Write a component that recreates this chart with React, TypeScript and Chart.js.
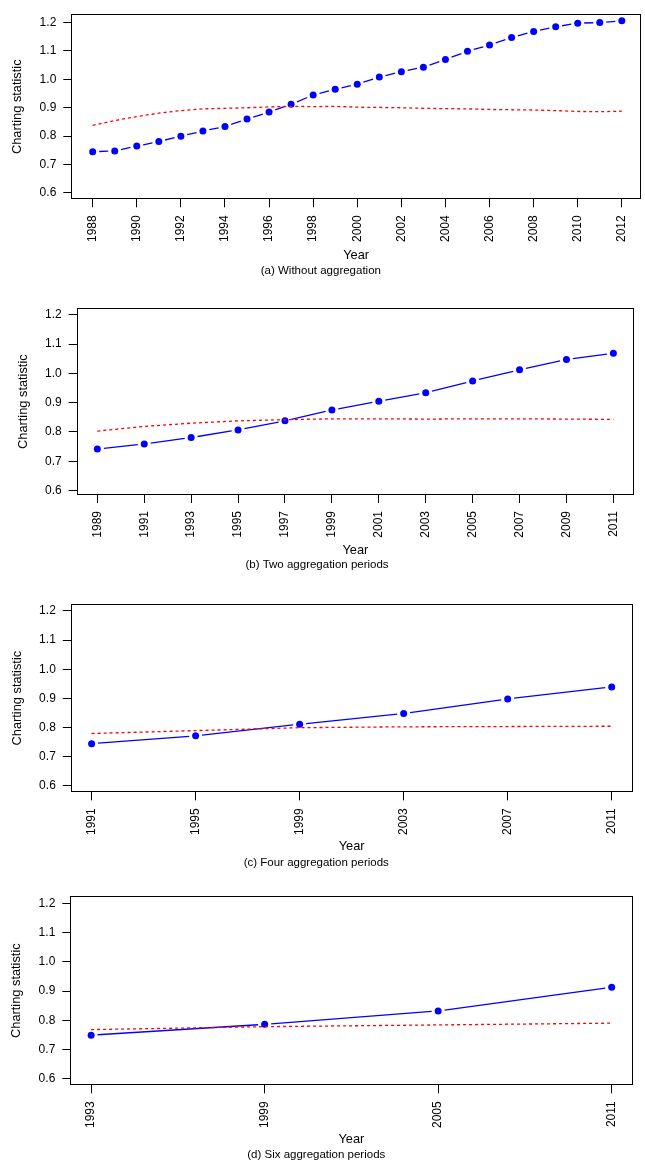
import React, { useEffect, useRef } from 'react';
import { Chart, registerables } from 'chart.js';

Chart.register(...registerables);

const FONT = "'Liberation Sans', Arial, Helvetica, sans-serif";

// ---------- data ----------
const yTickValues = [0.6, 0.7, 0.8, 0.9, 1.0, 1.1, 1.2];

// (a) Without aggregation
const yearsA = [1988, 1989, 1990, 1991, 1992, 1993, 1994, 1995, 1996, 1997, 1998, 1999, 2000, 2001, 2002, 2003, 2004, 2005, 2006, 2007, 2008, 2009, 2010, 2011, 2012];
const blueA = [0.745, 0.748, 0.765, 0.781, 0.800, 0.818, 0.834, 0.860, 0.885, 0.912, 0.945, 0.965, 0.983, 1.008, 1.027, 1.043, 1.070, 1.099, 1.121, 1.147, 1.169, 1.185, 1.198, 1.200, 1.206];
const redA = [0.838, 0.855, 0.869, 0.881, 0.890, 0.896, 0.898, 0.900, 0.903, 0.905, 0.904, 0.905, 0.902, 0.901, 0.900, 0.898, 0.897, 0.896, 0.894, 0.893, 0.892, 0.890, 0.887, 0.886, 0.888];
const tickYearsA = [1988, 1990, 1992, 1994, 1996, 1998, 2000, 2002, 2004, 2006, 2008, 2010, 2012];
const captionA = '(a) Without aggregation';

// (b) Two aggregation periods
const yearsB = [1989, 1991, 1993, 1995, 1997, 1999, 2001, 2003, 2005, 2007, 2009, 2011];
const blueB = [0.742, 0.759, 0.781, 0.807, 0.838, 0.875, 0.905, 0.934, 0.974, 1.012, 1.047, 1.069];
const redB = [0.803, 0.819, 0.830, 0.838, 0.842, 0.845, 0.845, 0.844, 0.845, 0.845, 0.844, 0.843];
const tickYearsB = [1989, 1991, 1993, 1995, 1997, 1999, 2001, 2003, 2005, 2007, 2009, 2011];
const captionB = '(b) Two aggregation periods';

// (c) Four aggregation periods
const yearsC = [1991, 1995, 1999, 2003, 2007, 2011];
const blueC = [0.744, 0.771, 0.811, 0.848, 0.898, 0.939];
const redC = [0.779, 0.789, 0.799, 0.802, 0.803, 0.804];
const tickYearsC = [1991, 1995, 1999, 2003, 2007, 2011];
const captionC = '(c) Four aggregation periods';

// (d) Six aggregation periods
const yearsD = [1993, 1999, 2005, 2011];
const blueD = [0.749, 0.786, 0.832, 0.913];
const redD = [0.768, 0.778, 0.784, 0.790];
const tickYearsD = [1993, 1999, 2005, 2011];
const captionD = '(d) Six aggregation periods';

// ---------- layout (page pixels) ----------
const PAGE_W = 645;

const panels = [
  { years: yearsA, blue: blueA, red: redA, ticks: tickYearsA, caption: captionA,
    top: 0, height: 290, box: { l: 71.3, t: 7, r: 641.7, b: 199.3 },
    yTitleX: 17, yearY: 255, captionY: 271, xLim: [1987.03, 2012.87], yLim: [0.5776, 1.2295] },
  { years: yearsB, blue: blueB, red: redB, ticks: tickYearsB, caption: captionB,
    top: 292, height: 290, box: { l: 76.7, t: 308.3, r: 634, b: 495 },
    yTitleX: 23.6, yearY: 550, captionY: 565, xLim: [1988.12, 2011.88], yLim: [0.585, 1.222] },
  { years: yearsC, blue: blueC, red: redC, ticks: tickYearsC, caption: captionC,
    top: 585, height: 290, box: { l: 70.8, t: 604, r: 632.5, b: 792.3 },
    yTitleX: 17, yearY: 846.7, captionY: 863.3, xLim: [1990.2, 2011.8], yLim: [0.577, 1.224] },
  { years: yearsD, blue: blueD, red: redD, ticks: tickYearsD, caption: captionD,
    top: 875, height: 289, box: { l: 70.3, t: 896, r: 632.5, b: 1085.3 },
    yTitleX: 16.7, yearY: 1139.3, captionY: 1155.3, xLim: [1992.28, 2011.72], yLim: [0.577, 1.226] },
];

const TICK_SIZE = 12;
const LAB_SIZE = 12.8;
const CAP_SIZE = 11.5;
const GAP = 6.5; // gap around points (R type = "b")

const gapDash = (ctx: any) => {
  const len = Math.hypot(ctx.p1.x - ctx.p0.x, ctx.p1.y - ctx.p0.y);
  if (len <= 2 * GAP) return [0, len + 1];
  return [0, GAP, len - 2 * GAP, GAP];
};

const boxPlugin = {
  id: 'rbox',
  afterDraw(chart: any) {
    const { ctx, chartArea: a } = chart;
    const l = Math.round(a.left) + 0.5;
    const t = Math.round(a.top) + 0.5;
    const r = Math.round(a.right) - 0.5;
    const b = Math.round(a.bottom) - 0.5;
    ctx.save();
    ctx.strokeStyle = '#000';
    ctx.lineWidth = 1;
    ctx.strokeRect(l, t, r - l, b - t);
    ctx.restore();
  },
};

function buildConfig(p: any) {
  const capLH = CAP_SIZE * 1.2;
  const labLH = LAB_SIZE * 1.2;
  const boxT = p.box.t - p.top;
  const boxB = p.box.b - p.top;
  const capY = p.captionY - p.top;
  const yearY = p.yearY - p.top;
  const padBottom = p.height - capY - capLH / 2;
  const titleTop = capY - capLH / 2;
  const xScaleH = titleTop - boxB;
  const yearPadBottom = titleTop - yearY - labLH / 2;
  const yTitlePadTop = p.yTitleX - labLH / 2;
  const yScaleW = p.box.l;

  const bluePts = p.years.map((x: number, i: number) => ({ x, y: p.blue[i] }));
  const redPts = p.years.map((x: number, i: number) => ({ x, y: p.red[i] }));

  return {
    type: 'line',
    data: {
      datasets: [
        {
          data: redPts,
          borderColor: '#ff0000',
          borderWidth: 1.3,
          borderDash: [3, 3],
          pointRadius: 0,
          tension: 0,
        },
        {
          data: bluePts,
          borderColor: '#0000ff',
          borderWidth: 1.3,
          pointRadius: 3.5,
          pointBorderWidth: 0,
          pointBackgroundColor: '#0000ff',
          pointBorderColor: '#0000ff',
          tension: 0,
          segment: { borderDash: gapDash },
        },
      ],
    },
    options: {
      responsive: false,
      animation: false,
      events: [],
      layout: {
        padding: { left: 0, top: boxT, right: PAGE_W - p.box.r, bottom: padBottom },
      },
      plugins: {
        legend: { display: false },
        tooltip: { enabled: false },
        title: {
          display: true,
          text: p.caption,
          position: 'bottom',
          color: '#000',
          font: { family: FONT, size: CAP_SIZE, weight: 'normal', lineHeight: 1.2 },
          padding: 0,
          align: 'center',
        },
      },
      scales: {
        x: {
          type: 'linear',
          position: 'bottom',
          min: p.xLim[0],
          max: p.xLim[1],
          afterBuildTicks: (s: any) => { s.ticks = p.ticks.map((v: number) => ({ value: v })); },
          afterFit: (s: any) => { s.height = xScaleH; },
          ticks: {
            autoSkip: false,
            minRotation: 90,
            maxRotation: 90,
            padding: 8,
            color: '#000',
            font: { family: FONT, size: TICK_SIZE },
            callback: (v: any) => String(v),
          },
          grid: { drawOnChartArea: false, drawTicks: true, tickLength: 8, color: '#000', lineWidth: 1 },
          border: { display: false },
          title: {
            display: true,
            text: 'Year',
            color: '#000',
            font: { family: FONT, size: LAB_SIZE, lineHeight: 1.2 },
            padding: { top: 0, bottom: yearPadBottom },
          },
        },
        y: {
          type: 'linear',
          position: 'left',
          min: p.yLim[0],
          max: p.yLim[1],
          afterBuildTicks: (s: any) => { s.ticks = yTickValues.map((v) => ({ value: v })); },
          afterFit: (s: any) => { s.width = yScaleW; },
          ticks: {
            padding: 7,
            color: '#000',
            font: { family: FONT, size: TICK_SIZE },
            callback: (v: any) => Number(v).toFixed(1),
          },
          grid: { drawOnChartArea: false, drawTicks: true, tickLength: 8, color: '#000', lineWidth: 1 },
          border: { display: false },
          title: {
            display: true,
            text: 'Charting statistic',
            color: '#000',
            font: { family: FONT, size: LAB_SIZE, lineHeight: 1.2 },
            padding: { top: yTitlePadTop, bottom: 0 },
          },
        },
      },
    },
    plugins: [boxPlugin],
  };
}

function Panel({ p }: { p: any }) {
  const ref = useRef<HTMLCanvasElement | null>(null);
  useEffect(() => {
    if (!ref.current) return;
    const chart = new Chart(ref.current, buildConfig(p) as any);
    return () => chart.destroy();
  }, [p]);
  return (
    <canvas
      ref={ref}
      width={PAGE_W}
      height={p.height}
      style={{ position: 'absolute', left: 0, top: p.top, width: PAGE_W, height: p.height }}
    />
  );
}

export default function App() {
  return (
    <div style={{ position: 'absolute', left: 0, top: 0, width: PAGE_W, height: 1164, background: '#fff' }}>
      {panels.map((p, i) => (
        <Panel key={i} p={p} />
      ))}
    </div>
  );
}
